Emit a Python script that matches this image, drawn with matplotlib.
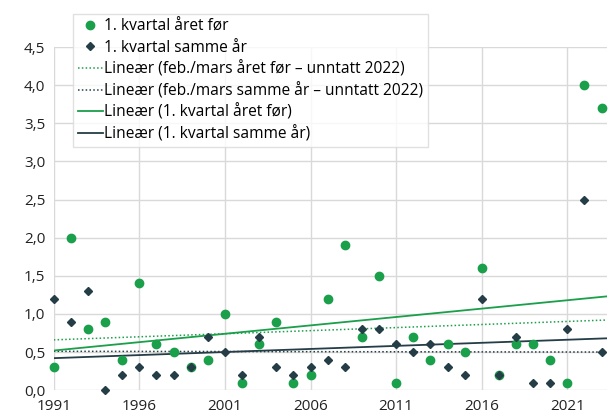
import numpy as np
import matplotlib
matplotlib.use('Agg')
import matplotlib.pyplot as plt

# Data
years = list(range(1991, 2024))
q1_year_before = [0.3, 2.0, 0.8, 0.9, 0.4, 1.4, 0.6, 0.5, 0.3, 0.4,
                  1.0, 0.1, 0.6, 0.9, 0.1, 0.2, 1.2, 1.9, 0.7, 1.5,
                  0.1, 0.7, 0.4, 0.6, 0.5, 1.6, 0.2, 0.6, 0.6, 0.4,
                  0.1, 4.0, 3.7]
q1_same_year = [1.2, 0.9, 1.3, 0.0, 0.2, 0.3, 0.2, 0.2, 0.3, 0.7,
                0.5, 0.2, 0.7, 0.3, 0.2, 0.3, 0.4, 0.3, 0.8, 0.8,
                0.6, 0.5, 0.6, 0.3, 0.2, 1.2, 0.2, 0.7, 0.1, 0.1,
                0.8, 2.5, 0.5]

# trend lines, values read at first and last year
trend_years = [1991, 2023.3]
febmar_year_before_trend = [0.66, 0.92]
febmar_same_year_trend = [0.51, 0.50]
q1_year_before_trend = [0.52, 1.23]
q1_same_year_trend = [0.42, 0.68]

y_ticks = [0.0, 0.5, 1.0, 1.5, 2.0, 2.5, 3.0, 3.5, 4.0, 4.5]
x_ticks = [1991, 1996, 2001, 2006, 2011, 2016, 2021]

green = '#1a9f4a'
dark = '#243d46'
grid_col = '#d9d9d9'

plt.rcParams['font.family'] = ['Open Sans', 'DejaVu Sans']

fig = plt.figure(figsize=(6.11, 4.2), dpi=100)
ax = fig.add_axes([0.088, 0.071, 0.905, 0.817])

ax.plot(trend_years, febmar_year_before_trend, color=green, linestyle=(0, (1, 1.5)), lw=1.1,
        label='Lineær (feb./mars året før – unntatt 2022)', zorder=2)
ax.plot(trend_years, febmar_same_year_trend, color=dark, linestyle=(0, (1, 1.5)), lw=1.1,
        label='Lineær (feb./mars samme år – unntatt 2022)', zorder=2)
ax.plot(trend_years, q1_year_before_trend, color=green, lw=1.3,
        label='Lineær (1. kvartal året før)', zorder=2)
ax.plot(trend_years, q1_same_year_trend, color=dark, lw=1.3,
        label='Lineær (1. kvartal samme år)', zorder=2)

ax.plot(years, q1_year_before, 'o', color=green, markersize=6, ls='none',
        label='1. kvartal året før', clip_on=False, zorder=3)
ax.plot(years, q1_same_year, 'D', color=dark, markersize=4.3, ls='none',
        label='1. kvartal samme år', clip_on=False, zorder=4)

ax.set_xlim(1991, 2023.3)
ax.set_ylim(0, 4.5)
ax.set_xticks(x_ticks)
ax.set_yticks(y_ticks)
ax.set_yticklabels([f'{v:.1f}'.replace('.', ',') for v in y_ticks])
ax.tick_params(length=0, labelsize=11, colors='#222222', pad=6)
ax.grid(True, color=grid_col, lw=1)
ax.set_axisbelow(True)
for s in ax.spines.values():
    s.set_visible(False)

handles, labels = ax.get_legend_handles_labels()
order = [4, 5, 0, 1, 2, 3]
leg = fig.legend([handles[i] for i in order], [labels[i] for i in order],
                 loc='upper left', bbox_to_anchor=(73 / 611, 1 - 14 / 420),
                 fontsize=11.2, frameon=True, fancybox=False, handlelength=1.6,
                 handletextpad=0.12, labelspacing=0.33, borderpad=0.3,
                 borderaxespad=0)
leg.get_frame().set_edgecolor(grid_col)
leg.get_frame().set_linewidth(1)

fig.savefig('out.png', dpi=100)
